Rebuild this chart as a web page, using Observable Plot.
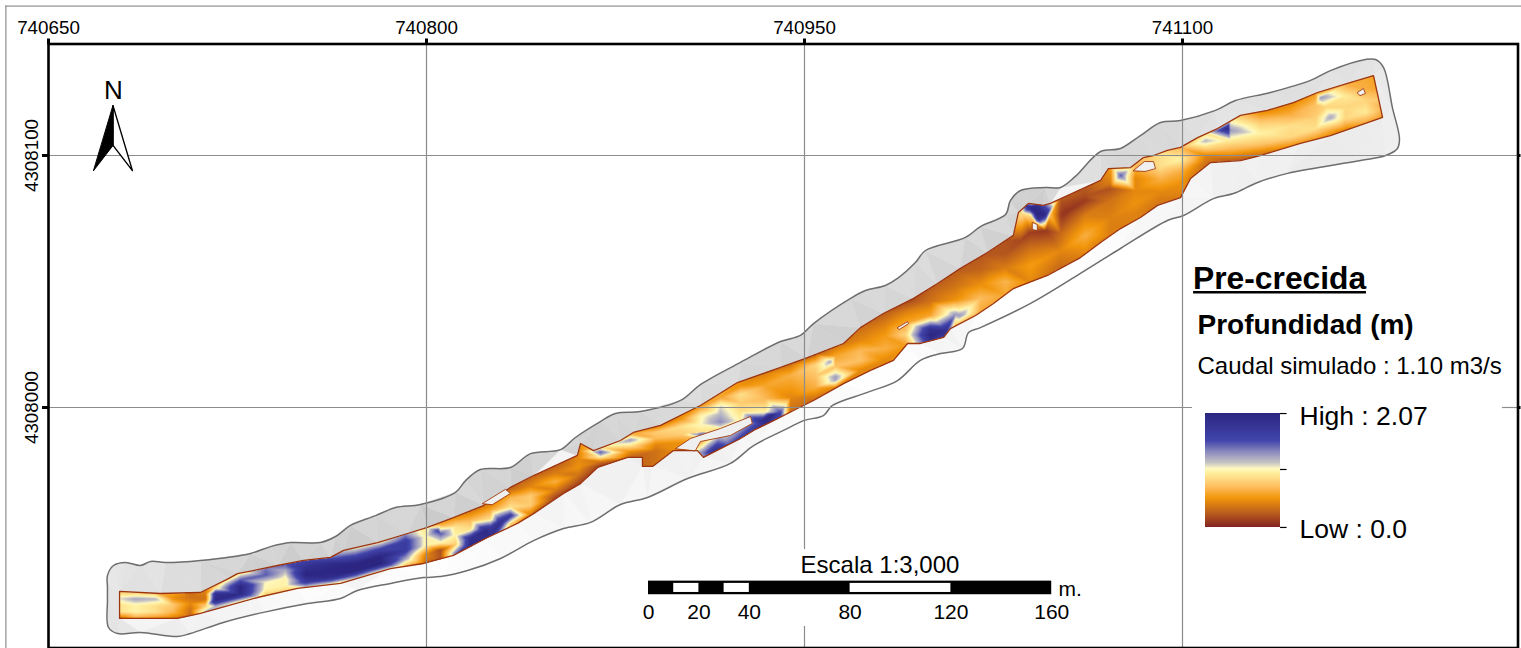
<!DOCTYPE html>
<html><head><meta charset="utf-8">
<script src="https://cdn.jsdelivr.net/npm/d3@7"></script>
<script src="https://cdn.jsdelivr.net/npm/@observablehq/plot@0.6"></script>
<style>html,body{margin:0;padding:0;background:#fff;overflow:hidden}svg{display:block}</style>
</head><body><div id="chart"></div>
<script>
// Map origin: all coordinates below are metres east / north of this point
const originE = 740650, originN = 4308000;
const gridEast = [740650, 740800, 740950, 741100];
const gridNorth = [4308000, 4308100];

// Outer limit of the surveyed terrain: [east, north, hillshade grey]
const terrainOutline = [
[23.4,-71.4,232],[23.4,-66.7,236],[25.8,-62.7,232],[30.6,-61.5,230],[36.5,-62.7,226],[40.5,-61.1,232],[46.4,-61.5,226],[60.3,-60.7,222],
[80.2,-57.9,218],[88.1,-55.2,220],[96.0,-53.6,214],[107.9,-53.6,222],[113.9,-51.2,216],[119.8,-46.8,214],[129.8,-42.9,220],[137.7,-39.7,214],
[147.6,-38.5,222],[161.5,-33.7,226],[165.5,-29.0,218],[171.4,-24.6,216],[183.3,-23.8,212],[191.3,-18.3,220],[203.2,-16.7,222],[209.1,-11.9,216],
[219.0,-5.6,214],[225.0,-2.4,220],[234.9,-1.6,216],[250.8,2.8,222],[258.7,9.1,226],[274.6,17.9,222],[290.5,26.2,218],[298.4,28.6,226],
[303.6,33.3,220],[318.3,43.3,224],[324.2,46.4,218],[332.1,48.4,226],[336.9,51.2,220],[344.0,57.5,226],[348.0,62.3,222],[363.9,67.5,228],
[369.8,71.8,222],[379.8,76.6,226],[381.7,82.1,220],[385.7,86.1,212],[395.6,87.3,216],[401.6,87.3,222],[407.5,91.7,226],[417.5,101.6,222],
[425.4,102.8,216],[433.3,107.9,222],[441.3,113.1,214],[449.2,113.9,220],[463.1,117.9,226],[471.0,121.8,222],[484.9,125.0,226],[500.8,129.8,220],
[508.7,133.7,226],[522.6,138.1,222],[526.6,138.1,224],[529.8,134.9,230],[533.3,119.0,236],[536.1,106.7,240],[535.3,102.8,240],[530.6,100.0,238],
[520.6,98.0,232],[491.7,92.9,236],[479.8,89.3,240],[470.2,84.9,236],[462.3,82.9,240],[450.4,76.2,242],[444.0,74.2,244],[425.4,63.1,248],
[409.5,53.2,252],[389.7,41.3,255],[369.8,31.7,255],[365.1,29.8,250],[362.7,23.4,248],[354.0,21.4,252],[346.0,18.7,254],[336.9,10.7,252],
[325.0,6.0,254],[311.1,0.8,248],[307.5,-3.2,250],[299.6,-5.2,252],[293.3,-8.3,252],[279.8,-15.1,250],[270.6,-22.2,248],[253.6,-28.2,250],
[237.7,-35.7,252],[227.0,-38.5,250],[215.1,-45.6,252],[204.4,-48.0,248],[192.5,-52.8,250],[179.4,-59.9,252],[166.3,-64.7,250],[155.6,-67.1,252],
[148.8,-67.5,250],[135.7,-69.8,252],[122.6,-72.6,248],[115.9,-75.8,246],[102.8,-77.8,250],[85.3,-81.3,246],[69.4,-85.3,240],[56.3,-89.7,238],
[51.2,-90.9,232],[36.5,-89.3,234],[27.4,-89.7,226],[23.8,-87.3,224],[23.4,-76.6,228]
];

// Wetted channel boundary: [east, north, hillshade grey of the adjoining bank]
const channelEdge = [
[28.2,-73.0,226],[44.4,-73.8,222],[60.3,-73.4,214],[71.4,-67.9,206],[75.0,-65.9,204],[81.3,-64.7,200],[90.9,-62.7,202],[101.2,-60.7,198],
[111.9,-59.5,206],[117.1,-56.7,198],[130.6,-53.6,204],[142.5,-50.0,208],[150.4,-47.6,196],[160.7,-43.7,190],[172.6,-38.9,205],[183.3,-31.7,210],
[192.5,-27.0,196],[209.9,-19.0,206],[211.1,-14.3,204],[216.3,-17.1,208],[227.0,-13.1,212],[232.1,-9.9,208],[242.9,-7.1,214],[258.7,0.8,216],
[273.4,9.9,212],[290.5,15.9,208],[301.2,19.8,206],[315.5,25.4,200],[322.2,31.7,204],[331.3,37.3,206],[343.3,43.3,210],[352.8,49.2,212],
[361.9,55.2,206],[372.6,61.5,200],[382.9,68.3,204],[384.9,77.4,206],[388.9,81.0,198],[394.8,80.2,204],[397.6,81.0,210],[417.5,90.1,220],
[420.6,94.8,214],[429.4,95.2,216],[434.5,99.2,212],[438.5,100.0,218],[444.0,102.0,214],[449.2,103.2,220],[456.0,107.1,222],[463.9,110.7,226],
[473.0,115.9,232],[483.7,117.9,226],[494.0,121.0,222],[503.6,125.0,230],[515.5,128.6,226],[525.8,131.7,232],[529.4,115.1,240],
[508.7,107.9,236],[496.8,104.8,240],[480.9,100.0,244],[473.0,98.0,240],[461.1,97.2,244],[453.2,90.9,248],[449.2,83.3,250],[440.1,80.2,246],
[433.3,75.4,250],[425.4,71.0,252],[417.5,65.5,255],[409.5,59.5,255],[396.4,52.4,255],[382.9,47.2,255],[375.0,41.3,255],[367.9,36.5,250],
[357.9,31.3,240],[355.2,27.8,238],[346.0,25.4,246],[340.9,25.4,250],[335.3,18.7,255],[326.2,14.7,255],[315.5,9.5,252],[303.6,2.8,250],
[297.2,-0.4,250],[287.7,-5.2,244],[279.8,-9.1,240],[274.6,-12.3,242],[266.7,-16.3,240],[259.9,-19.8,236],[257.5,-17.1,238],[248.0,-17.1,238],
[239.7,-23.4,234],[235.7,-23.4,236],[235.7,-19.8,238],[229.8,-19.8,236],[217.9,-23.8,238],[211.1,-30.2,236],[204.4,-34.1,240],[192.5,-42.1,244],
[186.1,-46.0,246],[174.2,-51.6,250],[160.7,-58.7,255],[148.8,-61.9,255],[135.7,-63.9,255],[115.9,-69.8,255],[98.8,-71.8,250],[82.9,-75.4,248],
[60.3,-81.7,246],[51.2,-83.7,244],[28.2,-83.7,232]
];

// Dry bars standing out of the water: [part, east, north]
const dryBars = [
[0,248.8,-16.3],[0,254.8,-12.3],[0,266.7,-8.3],[0,278.6,-3.6],[0,279.3,-6.3],[0,270.6,-11.1],[0,258.7,-13.5],[0,256.7,-17.1],
[1,172.2,-38.1],[1,181.3,-32.5],[1,183.3,-34.1],[1,176.2,-38.5],
[2,430.5,94.0],[2,434.9,97.6],[2,438.5,97.6],[2,439.3,94.8],[2,435.3,93.7],
[3,390.5,73.4],[3,392.4,72.6],[3,392.4,70.2],[3,390.5,70.6],
[4,336.9,31.7],[4,340.9,34.1],[4,341.3,33.3],[4,337.7,31.0],
[5,519.4,125.0],[5,521.8,126.6],[5,522.6,124.6],[5,520.6,123.8]
];

// Cross-sections of water depth: east, north of upper and lower bank, and depth (m) at five equal steps across
const sectionEast = [27.4,34.5,42.5,49.2,56.3,62.3,66.3,76.2,86.1,94.0,102.0,111.9,121.8,131.7,141.7,149.6,155.6,161.5,167.5,175.4,183.3,191.3,201.2,210.3,219.0,230.9,240.9,250.8,258.7,266.7,274.6,284.5,294.4,304.4,312.3,322.2,332.1,340.1,350.0,359.9,369.8,379.8,389.7,401.6,411.5,421.4,431.3,441.3,449.2,459.1,469.0,480.9,492.8,502.8,514.7,522.6,531.0];
const sectionTop = [-73.0,-73.4,-73.4,-73.0,-72.6,-71.4,-69.0,-65.5,-63.5,-62.3,-60.7,-59.1,-56.0,-53.2,-50.0,-47.6,-46.4,-43.7,-41.3,-36.9,-32.5,-27.8,-22.6,-17.1,-15.9,-10.3,-7.5,-4.4,0,4.0,8.7,13.9,17.1,21.4,24.6,30.6,37.7,42.1,47.6,54.0,60.3,66.3,76.2,83.3,92.1,96.0,96.0,100.8,103.2,108.7,113.9,117.5,120.6,124.6,128.2,130.6,131.3];
const sectionBottom = [-83.7,-83.7,-83.7,-83.7,-82.9,-81.0,-79.0,-77.0,-75.4,-73.4,-72.2,-70.2,-67.9,-65.1,-63.1,-61.9,-61.1,-57.9,-55.2,-51.6,-46.4,-42.5,-36.1,-30.2,-23.4,-20.2,-17.1,-17.1,-13.1,-9.1,-5.2,-7.1,-0.4,3.6,7.9,14.7,18.7,24.6,25.4,31.3,37.7,44.4,49.6,55.2,60.3,68.3,76.2,80.2,84.1,97.2,98.0,100.0,102.8,106.0,109.9,112.7,113.9];
const sectionDepths = [
[.8,1.1,.9,.9,.3],[.8,1.25,1.0,1.0,.6],[.7,1.2,.9,.9,.5],[.6,.5,.8,.7,.4],[.3,.35,.45,.35,.3],[.5,.4,.35,.8,1.2],[.55,.9,1.9,2.0,1.2],[.9,1.5,2.05,2.0,1.0],
[1.4,1.5,1.05,1.0,.7],[1.5,1.2,1.0,1.0,.8],[1.6,1.9,2.05,1.7,.9],[1.4,1.95,2.05,1.95,1.0],[1.1,1.6,2.05,2.05,1.1],[1.0,1.6,2.05,2.07,1.0],[1.3,1.7,1.7,1.3,.7],[.9,1.0,1.0,.45,.3],
[.6,1.5,1.0,.2,.2],[.5,.9,1.0,.8,1.4],[.4,.7,.9,1.9,2.0],[.3,.6,.9,1.8,1.9],[.3,.7,.9,1.7,.8],[.3,.45,.8,.8,.4],[.25,.4,.65,.4,.12],[.45,.45,.5,.35,.15],
[.9,1.5,1.0,.35,.1],[.6,1.3,.9,.45,.25],[.4,.8,.7,.45,.35],[.5,.9,.8,.5,.5],[.6,1.0,1.05,.9,.6],[.6,1.1,1.2,1.35,.9],[.5,.9,.8,.9,1.0],[.4,.6,.7,1.0,1.9],
[.35,.65,.55,.45,.35],[.25,.85,.75,.65,.35],[.35,.6,.75,1.3,.45],[.35,.45,.7,.75,.45],[.25,.42,.55,.65,.45],[.15,.42,.6,.85,.55],[.25,.35,.6,1.9,1.8],[.25,.35,.5,1.3,.55],
[.22,.28,.48,.72,.62],[.2,.22,.4,.68,.6],[.9,.1,.35,.55,.45],[.25,.1,.3,.45,.3],[.3,.18,.4,.65,.42],[.55,.4,.35,.42,.4],[.7,.45,.45,.5,.42],[.9,.9,.65,.45,.35],
[.7,1.0,.65,.5,.42],[.9,1.2,.85,.45,.35],[1.0,1.3,.95,.65,.25],[.45,.8,1.0,.75,.32],[.45,.65,.9,.85,.42],[.55,.75,.8,.9,.5],[.65,.95,.85,.85,.42],[.62,.65,.85,.95,.6],[.55,.55,.75,.62,.42]
];
// Individual pools and shallows: [east, north, depth]
const poolSoundings = [
[391.7,77.4,2.05],[394.0,76.6,2.05],[389.3,79.4,2.0],[395.6,76.6,2.0],[392.1,80.2,1.9],[392.5,74.8,1.9],[386.6,77.0,.9],[397.6,76.2,.7],[391.7,81.6,.7],[391.7,72.8,.6],
[286.5,-3.2,2.05],[282.5,-5.2,1.9],[290.5,-2.0,1.6],[264.7,-17.1,1.9],[260.7,-17.9,1.5],[269.8,-14.7,1.5],[258.7,-10.3,1.5],
[154.4,-48.8,1.6],[155.6,-56.7,.15],[508.7,115.1,1.25],[504.8,123.0,1.3],[506.8,119.2,.85],[467.9,110.9,2.0],[425.4,92.1,1.5],
[310.3,18.3,1.25],[312.3,10.7,1.25],[350.0,28.6,2.05],[356.0,30.6,1.9],[361.9,36.5,1.3],
[179.4,-45.6,1.9],[173.4,-48.8,2.0],[167.5,-51.6,1.8],
[395.6,70.2,.08],[403.5,77.4,.06],[411.5,82.1,.1],[421.4,86.9,.2],[385.7,66.3,.15]
];

// Colour ramp of the legend
const rampDepth = [0,.23,.52,.71,.98,1.055,1.16,1.35,1.56,2.07];
const rampColor = ["#862520","#b75a1e","#f2960c","#fdbb5a","#fff0a0","#fff8c0","#c6c3c4","#8d8cbe","#4245ab","#2b2580"];
const depthMax = 2.07;

// Scale bar (metres along the ground)
const barStops = [0,20,40,80,120,160];
const barWhite = [[10,20],[30,40],[80,120]];

// Layout
const W = 1521, H = 648, mL = 48, mR = 3.5, mT = 43.5, mB = 0.5, pxPerM = 2.52;
const xDom = [originE, originE + (W-mL-mR)/pxPerM];
const yDom = [originN + (407-(H-mB))/pxPerM, originN + (407-mT)/pxPerM];
const E = e => originE + e, N = n => originN + n;
const font = "'Liberation Sans', Arial, sans-serif";

// Depth soundings feed the raster
const soundings = [];
sectionEast.forEach((e,i) => {
  const t = sectionTop[i], b = sectionBottom[i], d = sectionDepths[i];
  d.forEach((v,k) => soundings.push({e:E(e), n:N(t+(b-t)*k/4), d:v}));
  soundings.push({e:E(e), n:N(t+18), d:d[0]});
  soundings.push({e:E(e), n:N(b-18), d:d[4]});
});
poolSoundings.forEach(([e,n,d]) => soundings.push({e:E(e), n:N(n), d}));

// Raster window and a mask that keeps water only inside the channel boundary
const rE = [E(20), E(536)], rN = [N(-92), N(140)];
const baryc = Plot.interpolatorBarycentric();
function maskedField(index, w, h, X, Y, V) {
  const out = baryc(index, w, h, X, Y, V);
  const gx = e => (E(e)-rE[0])/(rE[1]-rE[0])*w;
  const gy = n => (rN[1]-N(n))/(rN[1]-rN[0])*h;
  const poly = channelEdge.map(([e,n]) => [gx(e), gy(n)]);
  for (let j=0; j<h; j++) {
    const yc = j+.5, xs = [];
    for (let a=0; a<poly.length; a++) {
      const [x0,y0] = poly[a], [x1,y1] = poly[(a+1)%poly.length];
      if ((y0<=yc)!==(y1<=yc)) xs.push(x0+(yc-y0)/(y1-y0)*(x1-x0));
    }
    xs.sort((p,q)=>p-q);
    let k=0;
    for (let i=0; i<w; i++) {
      while (k<xs.length && xs[k]<i+.5) k++;
      if (k%2===0) out[j*w+i]=NaN;
    }
  }
  return out;
}

// Terrain facets: triangulated surface between the outline and the channel
const terrainPts = [...terrainOutline, ...channelEdge];
const dl = d3.Delaunay.from(terrainPts, d=>d[0], d=>d[1]);
const outlinePoly = terrainOutline.map(d=>[d[0],d[1]]), channelPoly = channelEdge.map(d=>[d[0],d[1]]);
const facets = [];
for (let t=0; t<dl.triangles.length; t+=3) {
  const tri = [dl.triangles[t],dl.triangles[t+1],dl.triangles[t+2]].map(i=>terrainPts[i]);
  const c = [d3.mean(tri,d=>d[0]), d3.mean(tri,d=>d[1])];
  if (!d3.polygonContains(outlinePoly,c) || d3.polygonContains(channelPoly,c)) continue;
  const g = Math.round(d3.mean(tri,d=>d[2])), col = `rgb(${g},${g},${g})`;
  tri.forEach(p => facets.push({id:t, e:E(p[0]), n:N(p[1]), col}));
}

// pixel-layout helper for annotation text
const label = (text, x, baseline, size, o={}) => Plot.text([text], {
  frameAnchor:"top-left", lineAnchor:"middle", dx:x-mL, dy:baseline-mT-.32*size, fontSize:size, fontFamily:font,
  textAnchor:"start", fill:"black", text:d=>d, ...o});

const ptE = d=>E(d[0]), ptN = d=>N(d[1]);
const closed = o => ({x:ptE, y:ptN, curve:"linear-closed", ...o});

// Scale bar and legend anchor (in map metres)
const barE = 238.1, barTop=-68.9, barBot=-74.3, barWTop=-69.8, barWBot=-73.4;
const legL = 459.1, legR = 488.9, legTop=-2.4, legBot=-47.6;
const legN = d => N(legBot + d/depthMax*(legTop-legBot));
const rampSteps = d3.range(0, depthMax, depthMax/114);

const chart = Plot.plot({
  width:W, height:H, marginLeft:mL, marginRight:mR, marginTop:mT, marginBottom:mB,
  style:{background:"white", fontFamily:font, color:"black", overflow:"visible"},
  x:{domain:xDom, axis:null}, y:{domain:yDom, axis:null},
  color:{type:"linear", domain:rampDepth, range:rampColor, clamp:true},
  marks:[
    // page border
    Plot.ruleX([E(-16.9)], {y1:N(159.3), y2:N(-95.6), stroke:"#777", strokeWidth:1}),
    Plot.ruleY([N(159.3)], {x1:E(-16.9), x2:E(585), stroke:"#777", strokeWidth:1}),
    // terrain
    Plot.line(terrainOutline, closed({fill:"#f4f4f4", stroke:"none"})),
    Plot.line(facets, {x:"e", y:"n", z:"id", curve:"linear-closed", fill:{value:"col",scale:null}, stroke:{value:"col",scale:null}, strokeWidth:.4}),
    // water
    Plot.raster(soundings, {x:"e", y:"n", fill:"d", interpolate:maskedField, x1:rE[0], x2:rE[1], y1:rN[1], y2:rN[0], pixelSize:1}),
    Plot.line(channelEdge, closed({stroke:"#9c3510", strokeWidth:1.3, fill:"none"})),
    Plot.line(dryBars, {x:d=>E(d[1]), y:d=>N(d[2]), z:d=>d[0], curve:"linear-closed", fill:"#efefef", stroke:"#a23c12", strokeWidth:.9}),
    Plot.line(terrainOutline, closed({stroke:"#6e6e6e", strokeWidth:1.5, fill:"none", curve:"catmull-rom-closed"})),
    // grid
    Plot.ruleX([gridEast[1], gridEast[3]], {y1:yDom[0], y2:yDom[1], stroke:"#8c8c8c", strokeWidth:1.2}),
    Plot.ruleX([gridEast[2]], {y1:yDom[1], y2:N(-56.3), stroke:"#8c8c8c", strokeWidth:1.2}),
    Plot.ruleX([gridEast[2]], {y1:N(-86.9), y2:yDom[0], stroke:"#8c8c8c", strokeWidth:1.2}),
    Plot.ruleY([gridNorth[1]], {x1:xDom[0], x2:xDom[1], stroke:"#8c8c8c", strokeWidth:1.2}),
    Plot.ruleY([gridNorth[0]], {x1:xDom[0], x2:E(454), stroke:"#8c8c8c", strokeWidth:1.2}),
    Plot.ruleY([gridNorth[0]], {x1:E(577), x2:xDom[1], stroke:"#8c8c8c", strokeWidth:1.2}),
    // frame and axes
    Plot.frame({stroke:"black", strokeWidth:2.6}),
    Plot.axisX(gridEast, {anchor:"top", tickSize:6, tickPadding:4, tickFormat:d=>String(d), fontSize:18.8, strokeWidth:3, stroke:"black", label:null, fontFamily:font}),
    Plot.axisY(gridNorth, {anchor:"left", tickSize:6, tickPadding:5, tickFormat:d=>String(d), tickRotate:-90, textAnchor:"middle", fontSize:18.8, strokeWidth:3, stroke:"black", label:null, fontFamily:font}),
    Plot.ruleY(gridNorth, {x1:xDom[1], x2:xDom[1]+3/pxPerM, stroke:"black", strokeWidth:3}),
    // north arrow
    Plot.line([[25.6,119.8],[25.6,104],[33.3,94]], closed({fill:"white", stroke:"black", strokeWidth:1.4})),
    Plot.line([[25.6,119.8],[25.6,104],[17.9,94]], closed({fill:"black", stroke:"black", strokeWidth:1})),
    label("N", 113, 98, 26, {textAnchor:"middle"}),
    // scale bar
    Plot.rect([[0,160]], {x1:d=>E(barE+d[0]), x2:d=>E(barE+d[1]), y1:N(barTop), y2:N(barBot), fill:"black"}),
    Plot.rect(barWhite, {x1:d=>E(barE+d[0]), x2:d=>E(barE+d[1]), y1:N(barWTop), y2:N(barWBot), fill:"white"}),
    Plot.text(barStops, {x:d=>E(barE+d), y:N(-81.3), text:d=>String(d), fontSize:21, fontFamily:font, fill:"black"}),
    label("Escala 1:3,000", 879.5, 572, 24, {textAnchor:"middle"}),
    label("m.", 1058, 595, 21),
    // legend
    label("Pre-crecida", 1192.5, 288, 31.8, {fontWeight:"bold"}),
    Plot.ruleY([N(45.7)], {x1:E(454.4), x2:E(523), stroke:"black", strokeWidth:2.5}),
    label("Profundidad (m)", 1197, 333, 28, {fontWeight:"bold", style:"letter-spacing:2px"}),
    label("Caudal simulado : 1.10 m3/s", 1197, 373, 24),
    Plot.rect(rampSteps, {x1:E(legL), x2:E(legR), y1:d=>legN(d), y2:d=>legN(d+depthMax/114), fill:d=>d, shapeRendering:"crispEdges"}),
    Plot.ruleY([N(legBot), N(-24.6), N(legTop)], {x1:E(legR), x2:E(legR+2.6), stroke:"black", strokeWidth:1.2}),
    label("High : 2.07", 1299, 424, 26.5),
    label("Low : 0.0", 1299, 537, 26.5)
  ]
});
document.getElementById("chart").append(chart);
</script></body></html>
